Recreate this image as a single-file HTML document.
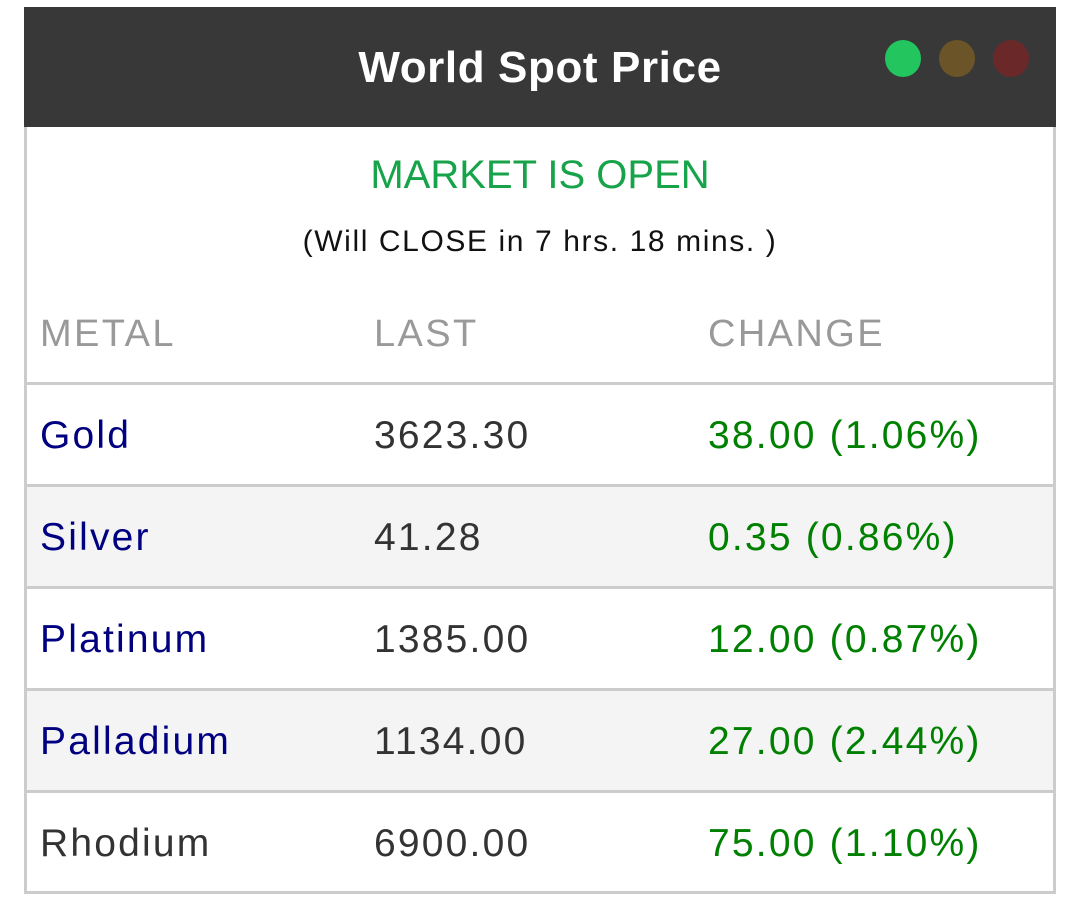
<!DOCTYPE html>
<html><head><style>
*{margin:0;padding:0;box-sizing:border-box}
body{width:1080px;height:897px;background:#fff;font-family:"Liberation Sans",sans-serif;position:relative;overflow:hidden}
.box{position:absolute;left:24px;top:7px;width:1032px;height:887px;border:3px solid #ccc;border-top:none}
.hdr{position:absolute;left:24px;top:7px;width:1032px;height:120px;background:#383838}
.title{position:absolute;left:0;width:1080px;top:43px;text-align:center;color:#fff;font-weight:bold;font-size:44px;letter-spacing:0.6px}
.dot{position:absolute;top:40px;width:36px;height:37px;border-radius:50%}
.t{position:absolute;white-space:nowrap}
.line{position:absolute;left:24px;width:1032px;height:3px;background:#ccc}
.alt{position:absolute;left:27px;width:1026px;height:99px;background:#f4f4f4}
.c{font-size:39px;letter-spacing:2.2px}
.h{font-size:38px;letter-spacing:2.4px}
</style></head><body>
<div class="box"></div>
<div class="hdr"></div>
<div class="title">World Spot Price</div>
<div class="dot" style="left:885px;background:#22c55e"></div>
<div class="dot" style="left:939px;background:#6b5428"></div>
<div class="dot" style="left:993px;background:#6b2828"></div>
<div class="t" style="left:0;width:1080px;text-align:center;top:153px;font-size:40px;color:#16a34a">MARKET IS OPEN</div>
<div class="t" style="left:0;width:1080px;text-align:center;top:225px;font-size:30px;letter-spacing:1.6px;color:#111">(Will CLOSE in 7 hrs. 18 mins. )</div>
<div class="t h" style="left:40px;top:313px;color:#999">METAL</div>
<div class="t h" style="left:374px;top:313px;color:#999">LAST</div>
<div class="t h" style="left:708px;top:313px;color:#999">CHANGE</div>
<div class="alt" style="top:487px"></div>
<div class="alt" style="top:691px"></div>
<div class="line" style="top:382px"></div>
<div class="line" style="top:484px"></div>
<div class="line" style="top:586px"></div>
<div class="line" style="top:688px"></div>
<div class="line" style="top:790px"></div>
<div class="t c" style="left:40px;top:414px;color:#000080">Gold</div>
<div class="t c" style="left:374px;top:414px;color:#333">3623.30</div>
<div class="t c" style="left:708px;top:414px;color:#008000">38.00 (1.06%)</div>
<div class="t c" style="left:40px;top:516px;color:#000080">Silver</div>
<div class="t c" style="left:374px;top:516px;color:#333">41.28</div>
<div class="t c" style="left:708px;top:516px;color:#008000">0.35 (0.86%)</div>
<div class="t c" style="left:40px;top:618px;color:#000080">Platinum</div>
<div class="t c" style="left:374px;top:618px;color:#333">1385.00</div>
<div class="t c" style="left:708px;top:618px;color:#008000">12.00 (0.87%)</div>
<div class="t c" style="left:40px;top:720px;color:#000080">Palladium</div>
<div class="t c" style="left:374px;top:720px;color:#333">1134.00</div>
<div class="t c" style="left:708px;top:720px;color:#008000">27.00 (2.44%)</div>
<div class="t c" style="left:40px;top:822px;color:#333">Rhodium</div>
<div class="t c" style="left:374px;top:822px;color:#333">6900.00</div>
<div class="t c" style="left:708px;top:822px;color:#008000">75.00 (1.10%)</div>
</body></html>
